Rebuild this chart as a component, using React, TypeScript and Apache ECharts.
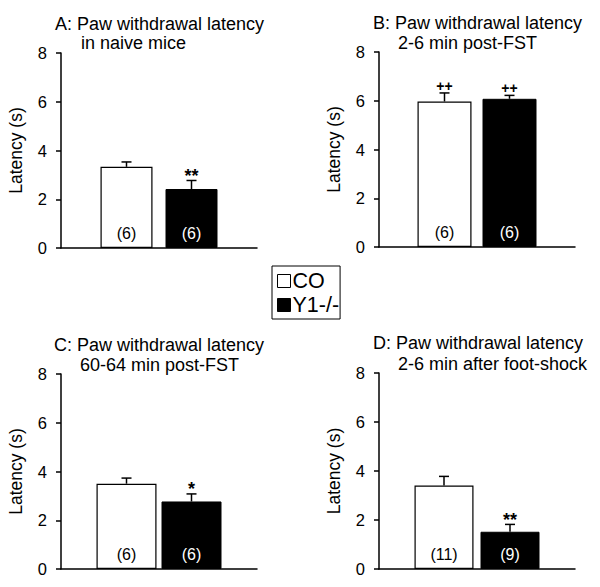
import React, { useEffect, useRef } from "react";
import * as echarts from "echarts";

const groupNames = ["CO", "Y1-/-"];
const panelCategory = ["Latency"];
const titleLine1 = [
  "A: Paw withdrawal latency",
  "B: Paw withdrawal latency",
  "C: Paw withdrawal latency",
  "D: Paw withdrawal latency",
];
const titleLine2 = [
  "in naive mice",
  "2-6 min post-FST",
  "60-64 min post-FST",
  "2-6 min after foot-shock",
];
const coMean = [3.33, 5.97, 3.5, 3.41];
const coSem = [0.2, 0.35, 0.23, 0.37];
const y1Mean = [2.42, 6.08, 2.77, 1.52];
const y1Sem = [0.35, 0.14, 0.31, 0.3];
const coN = ["(6)", "(6)", "(6)", "(11)"];
const y1N = ["(6)", "(6)", "(6)", "(9)"];
const coSig = ["", "++", "", ""];
const y1Sig = ["**", "++", "*", "**"];
const yMin = 0;
const yMax = 8;
const yStep = 2;
const yName = "Latency (s)";

const FONT = "Arial, 'Liberation Sans', Helvetica, sans-serif";

const grids = [
  { left: 61, top: 53, width: 196, height: 195 },
  { left: 379, top: 52, width: 196, height: 195 },
  { left: 61, top: 374, width: 196, height: 195 },
  { left: 379, top: 373, width: 196, height: 196 },
];
const barGeom = [
  { w: 52, gap: 13 },
  { w: 54, gap: 11 },
  { w: 60, gap: 5 },
  { w: 59, gap: 7 },
];
const titlePos = [
  { x1: 55, x2: 81, y1: 25, y2: 44 },
  { x1: 373, x2: 398, y1: 24, y2: 44 },
  { x1: 54, x2: 80, y1: 346, y2: 366 },
  { x1: 373, x2: 398, y1: 344, y2: 365 },
];

export default function App() {
  const ref = useRef<HTMLDivElement>(null);
  useEffect(() => {
    if (!ref.current) return;
    const chart = echarts.init(ref.current, undefined, { renderer: "svg" });

    const xAxes: any[] = [];
    const yAxes: any[] = [];
    const series: any[] = [];
    const graphics: any[] = [];

    for (let p = 0; p < 4; p++) {
      const { w, gap } = barGeom[p];
      xAxes.push({
        type: "category",
        gridIndex: p,
        data: panelCategory,
        axisLine: { lineStyle: { color: "#000", width: 1.5 } },
        axisTick: { show: false },
        axisLabel: { show: false },
        splitLine: { show: false },
      });
      yAxes.push({
        type: "value",
        gridIndex: p,
        min: yMin,
        max: yMax,
        interval: yStep,
        name: yName,
        nameLocation: "middle",
        nameGap: 36,
        nameTextStyle: { color: "#000", fontSize: 17.5, fontFamily: FONT },
        axisLine: { show: true, lineStyle: { color: "#000", width: 1.5 } },
        axisTick: { show: true, length: 5, lineStyle: { color: "#000", width: 1.5 } },
        axisLabel: { color: "#000", fontSize: 16.5, fontFamily: FONT, margin: 14 },
        splitLine: { show: false },
      });
      const means = [coMean[p], y1Mean[p]];
      const sems = [coSem[p], y1Sem[p]];
      const ns = [coN[p], y1N[p]];
      const sigs = [coSig[p], y1Sig[p]];
      groupNames.forEach((name, g) => {
        series.push({
          type: "bar",
          name,
          xAxisIndex: p,
          yAxisIndex: p,
          barWidth: w,
          barGap: (gap / w) * 100 + "%",
          data: [means[g]],
          itemStyle:
            g === 0
              ? { color: "#fff", borderColor: "#000", borderWidth: 1.2 }
              : { color: "#000", borderColor: "#000", borderWidth: 1 },
          label: {
            show: true,
            position: "insideBottom",
            distance: 7,
            formatter: () => ns[g],
            color: g === 0 ? "#000" : "#fff",
            fontSize: 16,
            fontFamily: FONT,
          },
        });
      });
      series.push({
        type: "custom",
        xAxisIndex: p,
        yAxisIndex: p,
        z: 5,
        data: groupNames.map((_, g) => [0, means[g], sems[g], g]),
        encode: { x: 0, y: 1 },
        renderItem: (params: any, api: any) => {
          const mean = api.value(1);
          const sem = api.value(2);
          const g = api.value(3);
          const base = api.coord([0, mean]);
          const top = api.coord([0, mean + sem]);
          const x = base[0] + (g === 0 ? -1 : 1) * (w + gap) / 2;
          const sig = sigs[g];
          const isPlus = sig.indexOf("+") >= 0;
          const children: any[] = [
            {
              type: "line",
              shape: { x1: x, y1: base[1], x2: x, y2: top[1] },
              style: { stroke: "#000", lineWidth: 1.5 },
            },
            {
              type: "line",
              shape: { x1: x - 5, y1: top[1], x2: x + 5, y2: top[1] },
              style: { stroke: "#000", lineWidth: 1.5 },
            },
          ];
          if (sig) {
            children.push({
              type: "text",
              style: {
                text: sig,
                x,
                y: isPlus ? top[1] - 7 : top[1] - 4.5,
                align: "center",
                verticalAlign: "middle",
                fill: "#000",
                font: isPlus ? `bold 14px ${FONT}` : `bold 18px ${FONT}`,
              },
            });
          }
          return { type: "group", children };
        },
      });

      const tp = titlePos[p];
      graphics.push({
        type: "text",
        left: tp.x1,
        top: tp.y1 - 10,
        style: { text: titleLine1[p], fill: "#000", font: `18px ${FONT}` },
      });
      graphics.push({
        type: "text",
        left: tp.x2,
        top: tp.y2 - 10,
        style: { text: titleLine2[p], fill: "#000", font: `18px ${FONT}` },
      });
    }

    chart.setOption({
      animation: false,
      backgroundColor: "#fff",
      grid: grids.map((g) => ({ ...g, containLabel: false })),
      xAxis: xAxes,
      yAxis: yAxes,
      series,
      graphic: graphics,
      legend: {
        orient: "vertical",
        left: 272,
        top: 266,
        itemWidth: 13,
        itemHeight: 13,
        itemGap: 2,
        padding: [4, 1, 3, 5],
        borderColor: "#000",
        borderWidth: 1,
        selectedMode: false,
        textStyle: { color: "#000", fontSize: 21.5, fontFamily: FONT, padding: [0, 0, 0, -3] },
        data: [
          { name: groupNames[0], icon: "rect", itemStyle: { color: "#fff", borderColor: "#000", borderWidth: 1 } },
          { name: groupNames[1], icon: "rect", itemStyle: { color: "#000", borderColor: "#000", borderWidth: 1 } },
        ],
      },
    });
    return () => chart.dispose();
  }, []);
  return (
    <div
      ref={ref}
      style={{ position: "absolute", left: 0, top: 0, width: 600, height: 587 }}
    />
  );
}
